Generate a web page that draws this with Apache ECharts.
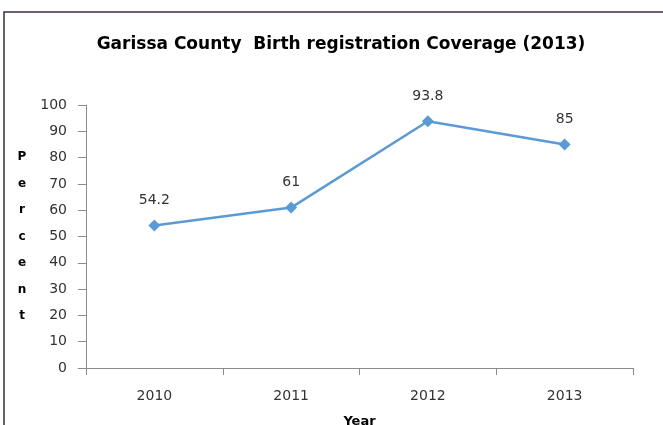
<!DOCTYPE html>
<html>
<head>
<meta charset="utf-8">
<script src="https://cdn.jsdelivr.net/npm/echarts@6/dist/echarts.min.js"></script>
<style>
html, body { margin: 0; padding: 0; background: #fff; }
#chart { width: 663px; height: 425px; }
</style>
</head>
<body>
<div id="chart"></div>
<script>
// 数据
var years = ['2010', '2011', '2012', '2013'];
var coverage = [54.2, 61, 93.8, 85];
var yTicks = [0, 10, 20, 30, 40, 50, 60, 70, 80, 90, 100];

var labelColor = '#333';
var axisColor = '#8c8c8c';
var font = 'DejaVu Sans';

var chart = echarts.init(document.getElementById('chart'));
chart.setOption({
    animation: false,
    backgroundColor: '#fff',
    title: {
        text: 'Garissa County  Birth registration Coverage (2013)',
        left: 336,
        top: 31,
        textAlign: 'center',
        textStyle: {
            fontFamily: font,
            fontWeight: 'bold',
            fontSize: 17,
            color: '#000'
        }
    },
    graphic: [{
        type: 'rect',
        shape: { x: 4, y: 12, width: 720, height: 500 },
        style: { fill: 'none', stroke: '#3b2b47', lineWidth: 1.5 },
        silent: true
    }],
    grid: { left: 86, right: 30, top: 105, bottom: 57, outerBoundsMode: 'none' },
    xAxis: {
        type: 'category',
        data: years,
        name: 'Year',
        nameLocation: 'middle',
        nameGap: 47,
        nameTextStyle: {
            fontFamily: font,
            fontWeight: 'bold',
            fontSize: 13,
            color: '#000'
        },
        axisLine: { lineStyle: { color: axisColor, width: 1 } },
        axisTick: { show: true, length: 7, lineStyle: { color: axisColor } },
        axisLabel: {
            margin: 21,
            fontFamily: font,
            fontSize: 14,
            color: labelColor
        },
        splitLine: { show: false }
    },
    yAxis: {
        type: 'value',
        min: yTicks[0],
        max: yTicks[yTicks.length - 1],
        interval: yTicks[1] - yTicks[0],
        name: 'P\ne\nr\nc\ne\nn\nt',
        nameLocation: 'middle',
        nameRotate: 0,
        nameGap: 64,
        nameTextStyle: {
            fontFamily: font,
            fontWeight: 'bold',
            fontSize: 12,
            lineHeight: 26.5,
            align: 'center',
            verticalAlign: 'middle',
            color: '#000'
        },
        axisLine: { show: true, lineStyle: { color: axisColor, width: 1 } },
        axisTick: { show: true, length: 8, lineStyle: { color: axisColor } },
        axisLabel: {
            margin: 19,
            fontFamily: font,
            fontSize: 14,
            color: labelColor
        },
        splitLine: { show: false }
    },
    series: [{
        type: 'line',
        data: coverage,
        symbol: 'diamond',
        symbolSize: 12,
        lineStyle: { color: '#5b9bd5', width: 2.5 },
        itemStyle: { color: '#5b9bd5' },
        label: {
            show: true,
            position: 'top',
            distance: 12,
            fontFamily: font,
            fontSize: 14,
            color: labelColor
        }
    }]
});
</script>
</body>
</html>
